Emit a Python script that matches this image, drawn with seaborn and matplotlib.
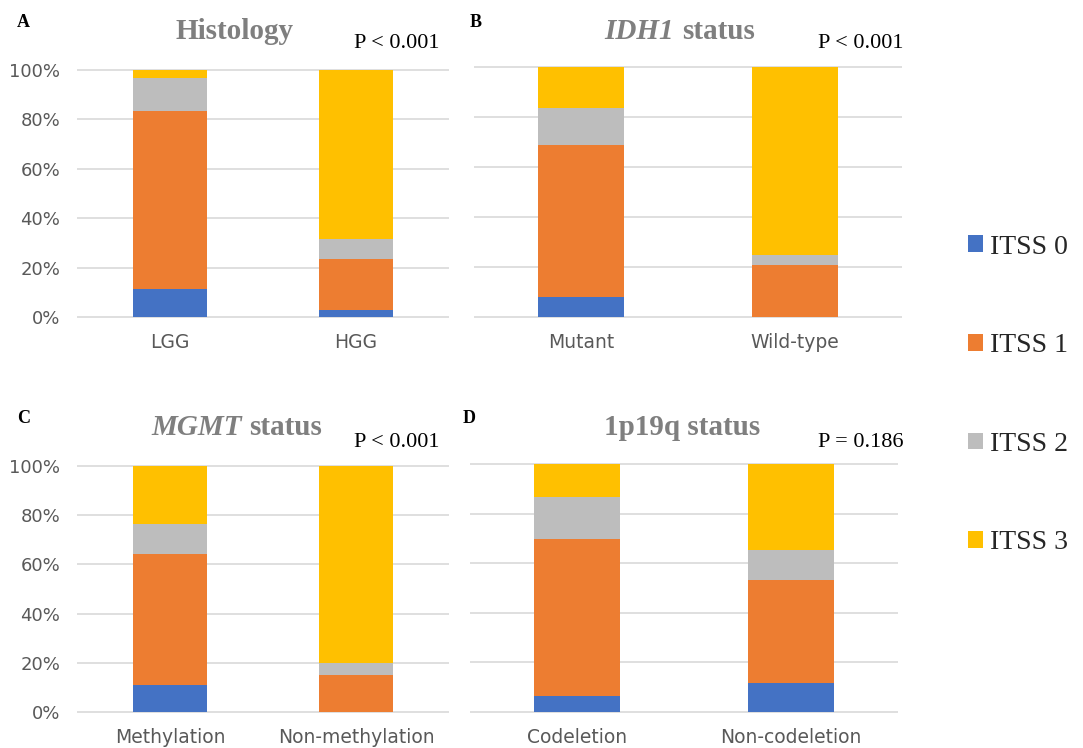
import numpy as np
import pandas as pd
import matplotlib
matplotlib.use('Agg')
import matplotlib.pyplot as plt
from matplotlib.patches import Patch
import seaborn as sns

# percentages of ITSS grades per group
levels = ['ITSS 0', 'ITSS 1', 'ITSS 2', 'ITSS 3']
level_colors = ['#4472C4', '#ED7D31', '#BDBDBD', '#FFC000']

histology_groups = ['LGG', 'HGG']
histology_itss0 = [11.4, 2.8]
histology_itss1 = [71.8, 20.8]
histology_itss2 = [13.4, 7.9]
histology_itss3 = [3.4, 68.5]

idh1_groups = ['Mutant', 'Wild-type']
idh1_itss0 = [8.1, 0.0]
idh1_itss1 = [60.8, 20.6]
idh1_itss2 = [14.8, 4.2]
idh1_itss3 = [16.3, 75.2]

mgmt_groups = ['Methylation', 'Non-methylation']
mgmt_itss0 = [11.0, 0.0]
mgmt_itss1 = [53.1, 14.9]
mgmt_itss2 = [12.4, 4.9]
mgmt_itss3 = [23.5, 80.2]

codel_groups = ['Codeletion', 'Non-codeletion']
codel_itss0 = [6.5, 11.8]
codel_itss1 = [63.4, 41.5]
codel_itss2 = [16.8, 12.1]
codel_itss3 = [13.3, 34.6]

p_values = ['P < 0.001', 'P < 0.001', 'P < 0.001', 'P = 0.186']
yticks = [0, 20, 40, 60, 80, 100]
ytick_labels = ['0%', '20%', '40%', '60%', '80%', '100%']

W, H = 1083, 748
SERIF = ['Liberation Serif', 'DejaVu Serif']


def build_frame(groups, s0, s1, s2, s3):
    df = pd.DataFrame({'group': groups, 'ITSS 0': s0, 'ITSS 1': s1,
                       'ITSS 2': s2, 'ITSS 3': s3})
    return df


def px_box(left, top, right, bottom):
    return [left / W, 1 - bottom / H, (right - left) / W, (bottom - top) / H]


def stacked_panel(ax, df, show_y):
    # draw cumulative sums, tallest first so smaller stacks sit on top
    cum = df[levels].cumsum(axis=1)
    for lev, col in reversed(list(zip(levels, level_colors))):
        sns.barplot(x=df['group'], y=cum[lev], color=col, width=0.4,
                    saturation=1, linewidth=0, edgecolor='none',
                    ax=ax, zorder=3)
    ax.set_ylim(-0.4, 100.4)
    ax.set_xlim(-0.5, 1.5)
    ax.set_yticks(yticks)
    ax.grid(axis='y', color='#D9D9D9', linewidth=1.2, zorder=0)
    ax.grid(axis='x', visible=False)
    ax.set_axisbelow(True)
    for sp in ax.spines.values():
        sp.set_visible(False)
    ax.set_xlabel('')
    ax.set_ylabel('')
    ax.tick_params(axis='x', length=0, pad=11, labelsize=13.5,
                   labelcolor='#595959')
    ax.tick_params(axis='y', length=0, pad=12, labelsize=13,
                   labelcolor='#595959')
    if show_y:
        ax.set_yticklabels(ytick_labels)
    else:
        ax.set_yticklabels([])


sns.set_theme(style='white')
plt.rcParams['font.family'] = ['DejaVu Sans']

fig = plt.figure(figsize=(W / 100, H / 100), dpi=100)

panels = [
    (build_frame(histology_groups, histology_itss0, histology_itss1,
                 histology_itss2, histology_itss3), px_box(77, 69, 449, 318), True),
    (build_frame(idh1_groups, idh1_itss0, idh1_itss1, idh1_itss2, idh1_itss3),
     px_box(474, 66, 902, 318), False),
    (build_frame(mgmt_groups, mgmt_itss0, mgmt_itss1, mgmt_itss2, mgmt_itss3),
     px_box(77, 465, 449, 713), True),
    (build_frame(codel_groups, codel_itss0, codel_itss1, codel_itss2,
                 codel_itss3), px_box(470, 463, 898, 713), False),
]

for df, box, show_y in panels:
    ax = fig.add_axes(box)
    stacked_panel(ax, df, show_y)


def ftext(x, y, s, **kw):
    fig.text(x / W, 1 - y / H, s, va='baseline', **kw)


title_kw = dict(fontsize=21, fontweight='bold', color='#7F7F7F', family=SERIF)

# titles
ftext(235, 39, 'Histology', ha='center', **title_kw)
ftext(674, 39, 'IDH1', ha='right', style='italic', **title_kw)
ftext(682, 39, 'status', ha='left', **title_kw)
ftext(242, 435, 'MGMT', ha='right', style='italic', **title_kw)
ftext(249, 435, 'status', ha='left', **title_kw)
ftext(682, 435, '1p19q status', ha='center', **title_kw)

# p values
p_pos = [(440, 48), (903, 48), (440, 447), (903, 447)]
for (x, y), p in zip(p_pos, p_values):
    ftext(x, y, p, ha='right', fontsize=16, color='black', family=SERIF)

# panel letters
for (x, y), lab in zip([(17, 27), (470, 27), (17, 423), (463, 423)],
                       ['A', 'B', 'C', 'D']):
    ftext(x, y, lab, ha='left', fontsize=13, fontweight='bold',
          color='black', family=SERIF)

handles = [Patch(facecolor=c, edgecolor='none') for c in level_colors]
fig.legend(handles, levels, loc='center left',
           bbox_to_anchor=(957 / W, 1 - 395 / H), frameon=False,
           prop={'family': SERIF, 'size': 20}, handlelength=0.55,
           handleheight=0.55, handletextpad=0.25, labelspacing=2.65,
           borderaxespad=0)

plt.savefig('out.png', dpi=100)
